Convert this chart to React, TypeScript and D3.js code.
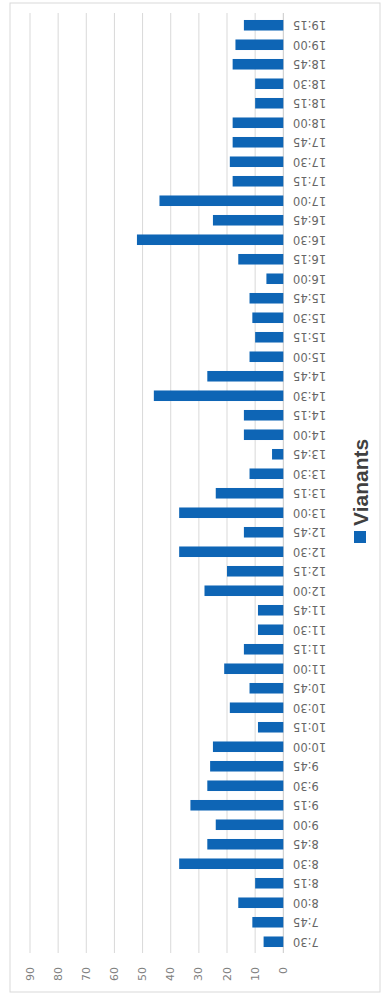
import React from 'react';
import * as d3 from 'd3';

const categories = [
  '7:30', '7:45', '8:00', '8:15', '8:30', '8:45', '9:00', '9:15', '9:30', '9:45',
  '10:00', '10:15', '10:30', '10:45', '11:00', '11:15', '11:30', '11:45',
  '12:00', '12:15', '12:30', '12:45', '13:00', '13:15', '13:30', '13:45',
  '14:00', '14:15', '14:30', '14:45', '15:00', '15:15', '15:30', '15:45',
  '16:00', '16:15', '16:30', '16:45', '17:00', '17:15', '17:30', '17:45',
  '18:00', '18:15', '18:30', '18:45', '19:00', '19:15',
];

const vianants = [
  7, 11, 16, 10, 37, 27, 24, 33, 27, 26,
  25, 9, 19, 12, 21, 14, 9, 9,
  28, 20, 37, 14, 37, 24, 12, 4,
  14, 14, 46, 27, 12, 10, 11, 12,
  6, 16, 52, 25, 44, 18, 19, 18,
  18, 10, 10, 18, 17, 14,
];

const valueTicks = [0, 10, 20, 30, 40, 50, 60, 70, 80, 90];
const seriesName = 'Vianants';

const W = 1001; // original chart width (screen height)
const H = 385; // original chart height (screen width)

export default function App() {
  const x = d3
    .scaleBand<string>()
    .domain(categories)
    .range([49.5, 985.5])
    .paddingInner(0.46)
    .paddingOuter(0.23);
  const y = d3.scaleLinear().domain([0, 90]).range([283.3, 30]);
  const bw = x.bandwidth();
  const barColor = '#0e65b5';

  return (
    <svg
      width={H}
      height={W}
      style={{ position: 'absolute', left: 0, top: 0, background: '#fff' }}
    >
      <rect x={0} y={0} width={H} height={W} fill="#fff" />
      <g transform={`translate(0,${W}) rotate(-90)`}>
        <rect x={9} y={10} width={989} height={370} fill="#fff" stroke="#d9d9d9" strokeWidth={1} />
        {valueTicks.map((t) => (
          <line
            key={'g' + t}
            x1={48}
            x2={988}
            y1={y(t)}
            y2={y(t)}
            stroke={t === 0 ? '#c8c8c8' : '#d9d9d9'}
            strokeWidth={1}
          />
        ))}
        {categories.map((c, i) => (
          <rect
            key={'b' + c}
            x={x(c)!}
            y={y(vianants[i])}
            width={bw}
            height={y(0) - y(vianants[i])}
            fill={barColor}
          />
        ))}
        {valueTicks.map((t) => (
          <text
            key={'t' + t}
            x={34}
            y={y(t)}
            textAnchor="end"
            dominantBaseline="central"
            fontFamily="DejaVu Sans, sans-serif"
            fontSize={11}
            fill="#7f7f7f"
          >
            {t}
          </text>
        ))}
        {categories.map((c) => (
          <text
            key={'c' + c}
            transform={`translate(${x(c)! + bw / 2},293) rotate(-90)`}
            textAnchor="end"
            dominantBaseline="central"
            fontFamily="DejaVu Sans, sans-serif"
            fontSize={11.5}
            fill="#666"
          >
            {c}
          </text>
        ))}
        <g>
          <rect x={458} y={354} width={12} height={12} fill={barColor} />
          <text
            x={475}
            y={368}
            fontFamily="Liberation Sans, Arial, sans-serif"
            fontWeight="bold"
            fontSize={21}
            fill="#404040"
          >
            {seriesName}
          </text>
        </g>
      </g>
    </svg>
  );
}
